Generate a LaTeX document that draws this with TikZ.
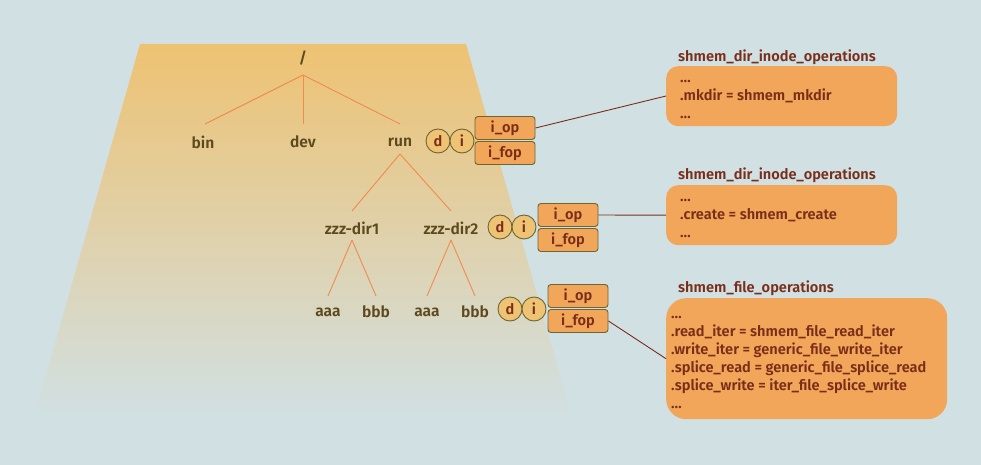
\documentclass[tikz,border=0pt]{standalone}
\usepackage{fontspec}
\setmainfont{Fira Sans}[UprightFont={* SemiBold}]
\definecolor{bg}{HTML}{D1E0E3}
\definecolor{trap}{HTML}{EEC272}
\definecolor{treetxt}{HTML}{5C4A1E}
\definecolor{treeline}{HTML}{F28A4E}
\definecolor{boxfill}{HTML}{F2A65A}
\definecolor{boxtxt}{HTML}{7A2E1A}
\definecolor{circfill}{HTML}{EEC373}
\definecolor{olive}{HTML}{6E6535}
\definecolor{conn}{HTML}{7A2E1A}
\begin{document}
\begin{tikzpicture}[x=1pt,y=-1pt,
  every node/.style={font=\fontsize{14.6}{18}\selectfont},
  dir/.style={text=treetxt,inner sep=1pt,font=\fontsize{15.6}{19}\selectfont},
  tl/.style={draw=treeline,line width=0.9pt},
  circ/.style={circle,draw=olive,fill=circfill,line width=0.9pt,minimum size=24pt,inner sep=0pt,text=boxtxt},
  fbox/.style={draw=olive,fill=boxfill,line width=0.9pt,rounded corners=3pt,minimum width=60pt,minimum height=23pt,inner sep=0pt,text=boxtxt},
  opsbox/.style={fill=boxfill,rounded corners=12pt,inner sep=0pt,anchor=north west},
  opsline/.style={text=boxtxt,anchor=base west,inner sep=0pt},
  title/.style={text=boxtxt,anchor=west,inner sep=0pt},
  cn/.style={draw=conn,line width=0.9pt}]
\fill[bg] (0,0) rectangle (981,465);
\useasboundingbox (0,0) rectangle (981,465);
\shade[top color=trap,bottom color=bg] (140,44) -- (466,44) -- (572,418) -- (34,418) -- cycle;
% tree
\node[dir] (root) at (303,58) {/};
\node[dir] (bin) at (203,142) {bin};
\node[dir] (dev) at (303,142) {dev};
\node[dir] (run) at (400,142) {run};
\node[dir] (z1) at (352,228) {zzz-dir1};
\node[dir] (z2) at (451,228) {zzz-dir2};
\node[dir] (a1) at (328,312) {aaa};
\node[dir] (b1) at (376,312) {bbb};
\node[dir] (a2) at (427,312) {aaa};
\node[dir] (b2) at (475,312) {bbb};
\coordinate (rootb) at (303,75);
\coordinate (runb) at (400,154);
\coordinate (z1b) at (352,240);
\coordinate (z2b) at (451,240);
\draw[tl] (rootb) -- (205,124);
\draw[tl] (rootb) -- (303,124);
\draw[tl] (rootb) -- (400,124);
\draw[tl] (runb) -- (352,211);
\draw[tl] (runb) -- (451,211);
\draw[tl] (z1b) -- (328,296);
\draw[tl] (z1b) -- (376,296);
\draw[tl] (z2b) -- (427,296);
\draw[tl] (z2b) -- (475,296);
% inode 1
\node[circ] (d1) at (438,141) {d};
\node[circ] (i1) at (462,141) {i};
\node[fbox] (op1) at (505,128) {i\_op};
\node[fbox] (fop1) at (505,153) {i\_fop};
% inode 2
\node[circ] (d2) at (500,227) {d};
\node[circ] (i2) at (524,227) {i};
\node[fbox] (op2) at (568,215) {i\_op};
\node[fbox] (fop2) at (568,240) {i\_fop};
% inode 3
\node[circ] (d3) at (510,309) {d};
\node[circ] (i3) at (534,309) {i};
\node[fbox] (op3) at (578,296) {i\_op};
\node[fbox] (fop3) at (578,321) {i\_fop};
% ops boxes
\node[title] (t1) at (678,57) {shmem\_dir\_inode\_operations};
\node[opsbox,minimum width=231pt,minimum height=60pt] (ops1) at (666,66) {};
\foreach \t [count=\k from 0] in {\dots,.mkdir = shmem\_mkdir,\dots}
  \node[opsline] (o1l\k) at (680,83+18*\k) {\t};
\node[title] (t2) at (678,175) {shmem\_dir\_inode\_operations};
\node[opsbox,minimum width=231pt,minimum height=60pt] (ops2) at (666,185) {};
\foreach \t [count=\k from 0] in {\dots,.create = shmem\_create,\dots}
  \node[opsline] (o2l\k) at (680,201.5+18*\k) {\t};
\node[title] (t3) at (678,288) {shmem\_file\_operations};
\node[opsbox,rounded corners=20pt,minimum width=281pt,minimum height=121pt] (ops3) at (666,298) {};
\foreach \t [count=\k from 0] in {\dots,.read\_iter = shmem\_file\_read\_iter,.write\_iter = generic\_file\_write\_iter,.splice\_read = generic\_file\_splice\_read,.splice\_write = iter\_file\_splice\_write,\dots}
  \node[opsline] (o3l\k) at (671,318+18*\k) {\t};
% connectors
\draw[cn] (op1.east) -- (ops1.west |- 0,96);
\draw[cn] (op2.east) -- (ops2.west);
\draw[cn] (fop3.east) -- (ops3.west);
\end{tikzpicture}
\end{document}
